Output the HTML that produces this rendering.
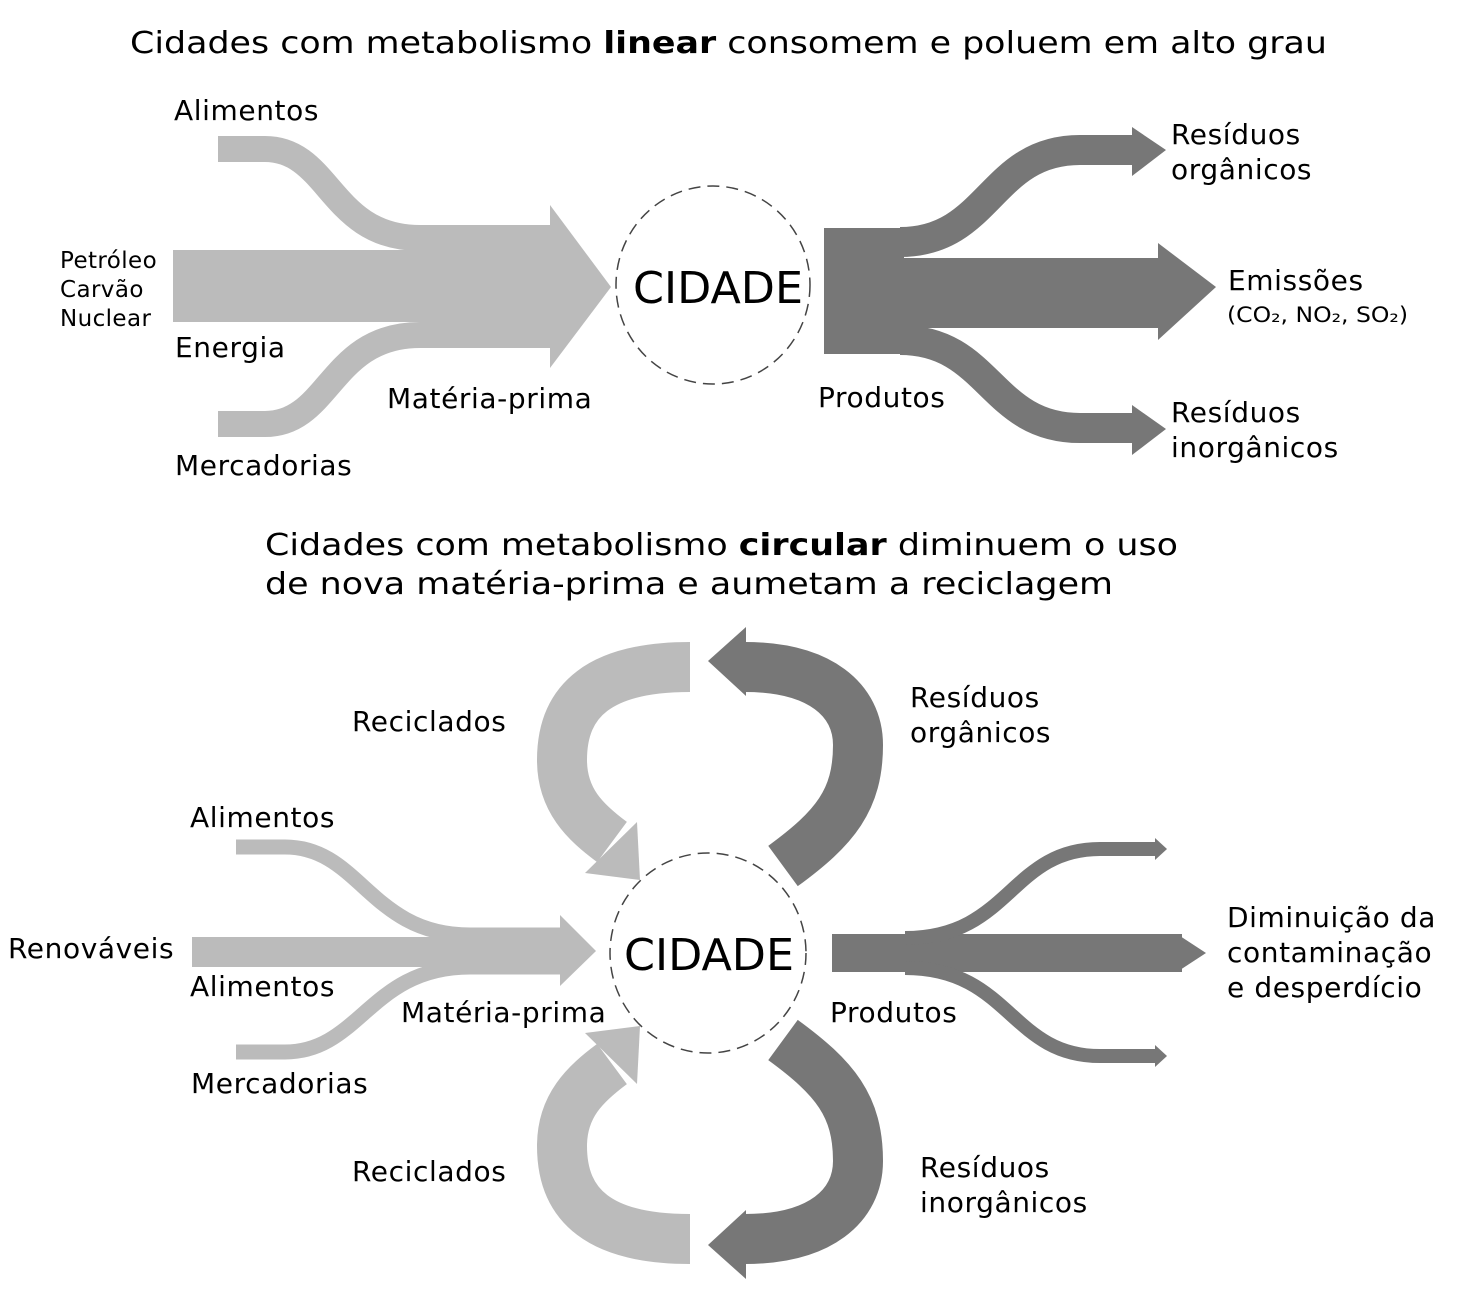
<!DOCTYPE html>
<html><head><meta charset="utf-8"><style>
html,body{margin:0;padding:0;background:#fff;}
svg{display:block;}
text{font-family:"DejaVu Sans","Liberation Sans",sans-serif;fill:#000;}
.lb{font-size:28px;letter-spacing:0.6px;}
.sm{font-size:23px;letter-spacing:0.4px;}
</style></head><body>
<svg width="1464" height="1292" viewBox="0 0 1464 1292">
<g>
<text x="130" y="53" font-size="30" textLength="1197" lengthAdjust="spacingAndGlyphs">Cidades com metabolismo <tspan font-weight="bold">linear</tspan> consomem e poluem em alto grau</text>
<path d="M218,149 L265,149 C330,149 330,238 420,238 L555,238" stroke="#bbb" stroke-width="26" fill="none"/>
<path d="M218,424 L265,424 C330,424 330,335 420,335 L555,335" stroke="#bbb" stroke-width="26" fill="none"/>
<rect x="173" y="250" width="380" height="72" fill="#bbb"/>
<polygon points="550,205 611,287 550,368" fill="#bbb"/>
<ellipse cx="713" cy="285" rx="97" ry="99" fill="none" stroke="#444" stroke-width="1.5" stroke-dasharray="12,7"/>
<text x="718" y="303" font-size="44" text-anchor="middle" font-family="Liberation Sans,sans-serif" textLength="170" lengthAdjust="spacingAndGlyphs">CIDADE</text>
<rect x="824" y="228" width="80" height="126" fill="#777"/>
<path d="M900,242 C990,242 990,150 1080,150 L1135,150" stroke="#777" stroke-width="30" fill="none"/>
<polygon points="1132,127 1166,150 1132,176" fill="#777"/>
<path d="M900,340 C990,340 990,428 1080,428 L1135,428" stroke="#777" stroke-width="30" fill="none"/>
<polygon points="1132,405 1166,429 1132,455" fill="#777"/>
<rect x="900" y="258" width="262" height="70" fill="#777"/>
<polygon points="1158,243 1216,287 1158,340" fill="#777"/>
<text class="lb" x="174" y="120">Alimentos</text>
<text class="sm" x="60" y="268">Petróleo</text>
<text class="sm" x="60" y="297">Carvão</text>
<text class="sm" x="60" y="326">Nuclear</text>
<text class="lb" x="175" y="357">Energia</text>
<text class="lb" x="175" y="475">Mercadorias</text>
<text class="lb" x="387" y="408">Matéria-prima</text>
<text class="lb" x="818" y="407">Produtos</text>
<text class="lb" x="1171" y="144">Resíduos</text>
<text class="lb" x="1171" y="179">orgânicos</text>
<text class="lb" x="1228" y="290">Emissões</text>
<text x="1227" y="322" font-size="21" textLength="181" lengthAdjust="spacingAndGlyphs">(CO₂, NO₂, SO₂)</text>
<text class="lb" x="1171" y="422">Resíduos</text>
<text class="lb" x="1171" y="457">inorgânicos</text>
</g>
<g>
<text x="265" y="555" font-size="30" textLength="913" lengthAdjust="spacingAndGlyphs">Cidades com metabolismo <tspan font-weight="bold">circular</tspan> diminuem o uso</text>
<text x="265" y="594" font-size="30" textLength="848" lengthAdjust="spacingAndGlyphs">de nova matéria-prima e aumetam a reciclagem</text>
<g>
<path d="M690,667 C600,667 562,700 562,760 C562,800 585,822 612,842" stroke="#bbb" stroke-width="50" fill="none"/>
<polygon points="585,873 640,880 637,822" fill="#bbb"/>
<path d="M783,866 C835,828 858,800 858,745 C858,700 820,667 745,667" stroke="#777" stroke-width="50" fill="none"/>
<polygon points="746,627 708,661 746,696" fill="#777"/>
</g>
<g transform="translate(0,1906) scale(1,-1)">
<path d="M690,667 C600,667 562,700 562,760 C562,800 585,822 612,842" stroke="#bbb" stroke-width="50" fill="none"/>
<polygon points="585,873 640,880 637,822" fill="#bbb"/>
<path d="M783,866 C835,828 858,800 858,745 C858,700 820,667 745,667" stroke="#777" stroke-width="50" fill="none"/>
<polygon points="746,627 708,661 746,696" fill="#777"/>
</g>
<path d="M236,847 L285,847 C360,847 370,935 470,935 L560,935" stroke="#bbb" stroke-width="15" fill="none"/>
<path d="M236,1052 L285,1052 C360,1052 370,967 470,967 L560,967" stroke="#bbb" stroke-width="15" fill="none"/>
<rect x="192" y="937" width="370" height="30" fill="#bbb"/>
<polygon points="560,915 596,951 560,986" fill="#bbb"/>
<ellipse cx="708" cy="953" rx="98" ry="100" fill="none" stroke="#444" stroke-width="1.5" stroke-dasharray="12,7"/>
<text x="709" y="970" font-size="44" text-anchor="middle" font-family="Liberation Sans,sans-serif" textLength="170" lengthAdjust="spacingAndGlyphs">CIDADE</text>
<rect x="832" y="934" width="350" height="38" fill="#777"/>
<polygon points="1180,936 1206,953 1180,970" fill="#777"/>
<path d="M905,938 C1010,938 1010,849 1100,849 L1158,849" stroke="#777" stroke-width="14" fill="none"/>
<polygon points="1155,838 1167,849 1155,860" fill="#777"/>
<path d="M905,968 C1010,968 1010,1056 1100,1056 L1158,1056" stroke="#777" stroke-width="14" fill="none"/>
<polygon points="1155,1045 1167,1056 1155,1067" fill="#777"/>
<text class="lb" x="352" y="731">Reciclados</text>
<text class="lb" x="910" y="707">Resíduos</text>
<text class="lb" x="910" y="742">orgânicos</text>
<text class="lb" x="190" y="827">Alimentos</text>
<text class="lb" x="8" y="958">Renováveis</text>
<text class="lb" x="190" y="996">Alimentos</text>
<text class="lb" x="401" y="1022">Matéria-prima</text>
<text class="lb" x="830" y="1022">Produtos</text>
<text class="lb" x="191" y="1093">Mercadorias</text>
<text class="lb" x="1227" y="927">Diminuição da</text>
<text class="lb" x="1227" y="962">contaminação</text>
<text class="lb" x="1227" y="997">e desperdício</text>
<text class="lb" x="352" y="1181">Reciclados</text>
<text class="lb" x="920" y="1177">Resíduos</text>
<text class="lb" x="920" y="1212">inorgânicos</text>
</g>
</svg>
</body></html>
